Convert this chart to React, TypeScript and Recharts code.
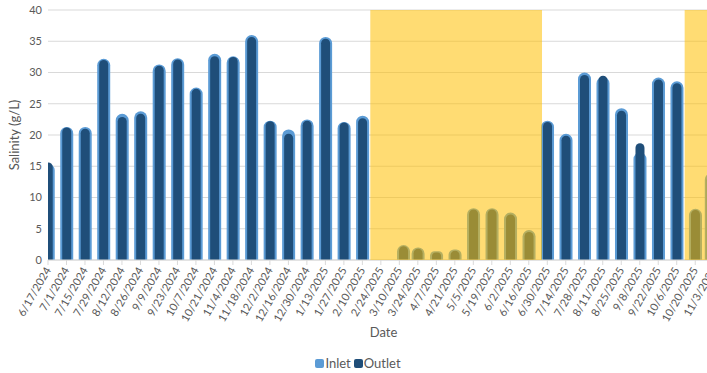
import React from 'react';
import { ComposedChart, Bar, XAxis, YAxis, CartesianGrid, Legend, ReferenceArea } from 'recharts';

// sample dates (actual sampling days, plotted on a date axis)
const sampleDates = [
    '6/17/2024', '7/1/2024', '7/15/2024', '7/29/2024', '8/12/2024', '8/26/2024', '9/9/2024',
    '9/23/2024', '10/7/2024', '10/21/2024', '11/4/2024', '11/18/2024', '12/2/2024', '12/16/2024',
    '12/30/2024', '1/13/2025', '1/27/2025', '2/10/2025', '3/13/2025', '3/24/2025', '4/7/2025',
    '4/21/2025', '5/5/2025', '5/19/2025', '6/2/2025', '6/16/2025', '6/30/2025', '7/14/2025',
    '7/28/2025', '8/11/2025', '8/25/2025', '9/8/2025', '9/22/2025', '10/6/2025', '10/20/2025',
    '11/1/2025',
];

const inletSalinity = [
    15.4, 21.3, 21.3, 32.2, 23.4, 23.8, 31.3, 32.3, 27.6, 33.0, 32.6, 36.0, 22.3, 20.9,
    22.5, 35.7, 22.1, 23.1, 2.4, 2.0, 1.4, 1.7, 8.3, 8.3, 7.6, 4.8, 22.3, 20.2,
    30.0, 29.3, 24.3, 17.2, 29.2, 28.6, 8.2, 13.9,
];

const outletSalinity = [
    15.6, 21.2, 21.0, 32.0, 22.9, 23.4, 31.1, 32.1, 27.4, 32.6, 32.5, 35.7, 22.2, 20.2,
    22.3, 35.4, 22.0, 22.7, 2.2, 1.8, 1.2, 1.5, 8.1, 8.1, 7.3, 4.5, 22.1, 19.9,
    29.6, 29.5, 23.9, 18.7, 28.9, 28.3, 8.0, 13.5,
];

// axis labels every two weeks
const tickDates = [
    '6/17/2024', '7/1/2024', '7/15/2024', '7/29/2024', '8/12/2024', '8/26/2024', '9/9/2024',
    '9/23/2024', '10/7/2024', '10/21/2024', '11/4/2024', '11/18/2024', '12/2/2024', '12/16/2024',
    '12/30/2024', '1/13/2025', '1/27/2025', '2/10/2025', '2/24/2025', '3/10/2025', '3/24/2025',
    '4/7/2025', '4/21/2025', '5/5/2025', '5/19/2025', '6/2/2025', '6/16/2025', '6/30/2025',
    '7/14/2025', '7/28/2025', '8/11/2025', '8/25/2025', '9/8/2025', '9/22/2025', '10/6/2025',
    '10/20/2025', '11/3/2025',
];

const salinityTicks = [0, 5, 10, 15, 20, 25, 30, 35, 40];

// highlighted periods (yellow bands)
const shadedPeriods = [
    ['2/16/2025', '6/26/2025'],
    ['10/12/2025', '10/30/2025'],
];

const axisEnd = '11/7/2025';

const DAY = 86400000;
const toDay = (s: string) => Math.round((Date.parse(s) - Date.parse(sampleDates[0])) / DAY);

const data = sampleDates.map((d, i) => ({
    day: toDay(d),
    inlet: inletSalinity[i],
    outlet: outletSalinity[i],
}));

const tickDays = tickDates.map(toDay);
const labelByDay: Record<number, string> = {};
tickDates.forEach((d) => { labelByDay[toDay(d)] = d; });

const FONT = 'Lato, "Open Sans", sans-serif';
const TEXT = '#595959';

const DateTick = (props: any) => {
    const { x, y, payload } = props;
    return (
        <text
            x={x}
            y={y}
            dy="0.35em"
            textAnchor="end"
            fontSize={11}
            fontFamily={FONT}
            fill={TEXT}
            transform={`rotate(-60 ${x} ${y})`}
        >
            {labelByDay[payload.value]}
        </text>
    );
};

const LegendBox = () => (
    <div style={{ height: 20, display: 'flex', justifyContent: 'center', alignItems: 'center', fontFamily: FONT, fontSize: 13, color: TEXT }}>
        {[{ name: 'Inlet', color: '#5B9BD5' }, { name: 'Outlet', color: '#1F4E79' }].map((it) => (
            <span key={it.name} style={{ display: 'flex', alignItems: 'center', marginRight: 3 }}>
                <span style={{ width: 9, height: 9, borderRadius: 2, background: it.color, marginRight: 1, display: 'inline-block' }} />
                {it.name}
            </span>
        ))}
    </div>
);

export default function App() {
    const domainEnd = toDay(axisEnd);
    return (
        <div style={{ position: 'absolute', left: 0, top: 0, width: 707, height: 373, overflow: 'hidden', background: '#fff' }}>
            <ComposedChart width={730} height={373} data={data} margin={{ top: 10, right: 11, bottom: 0, left: 0 }}>
                <CartesianGrid vertical={false} stroke="#d9d9d9" />
                <XAxis
                    xAxisId="in"
                    dataKey="day"
                    type="number"
                    domain={[0, domainEnd]}
                    allowDataOverflow
                    ticks={tickDays}
                    interval={0}
                    tick={<DateTick />}
                    tickSize={5}
                    tickMargin={3}
                    stroke="#d9d9d9"
                    height={93}
                    label={{ value: 'Date', position: 'insideBottom', offset: 16, fill: TEXT, fontSize: 13, fontFamily: FONT }}
                />
                <XAxis xAxisId="out" dataKey="day" type="number" domain={[0, domainEnd]} allowDataOverflow hide />
                <YAxis
                    domain={[0, 40]}
                    ticks={salinityTicks}
                    interval={0}
                    width={48}
                    axisLine={false}
                    tickLine={false}
                    tickSize={0}
                    tickMargin={6}
                    tick={{ fill: TEXT, fontSize: 11, fontFamily: FONT }}
                    label={{ value: 'Salinity (g/L)', angle: -90, position: 'insideLeft', offset: 14, fill: TEXT, fontSize: 13, fontFamily: FONT, style: { textAnchor: 'middle' } }}
                />
                <Legend verticalAlign="bottom" content={<LegendBox />} />
                <Bar xAxisId="in" dataKey="inlet" name="Inlet" fill="#5B9BD5" barSize={13} radius={[6.5, 6.5, 0, 0]} isAnimationActive={false} />
                <Bar xAxisId="out" dataKey="outlet" name="Outlet" fill="#1F4E79" barSize={9} radius={[4.5, 4.5, 0, 0]} isAnimationActive={false} />
                {shadedPeriods.map(([a, b]) => (
                    <ReferenceArea
                        key={a}
                        xAxisId="in"
                        x1={toDay(a)}
                        x2={toDay(b)}
                        y1={0}
                        y2={40}
                        fill="#FFC000"
                        fillOpacity={0.55}
                        stroke="none"
                        ifOverflow="hidden"
                        zIndex={600}
                    />
                ))}
            </ComposedChart>
        </div>
    );
}
